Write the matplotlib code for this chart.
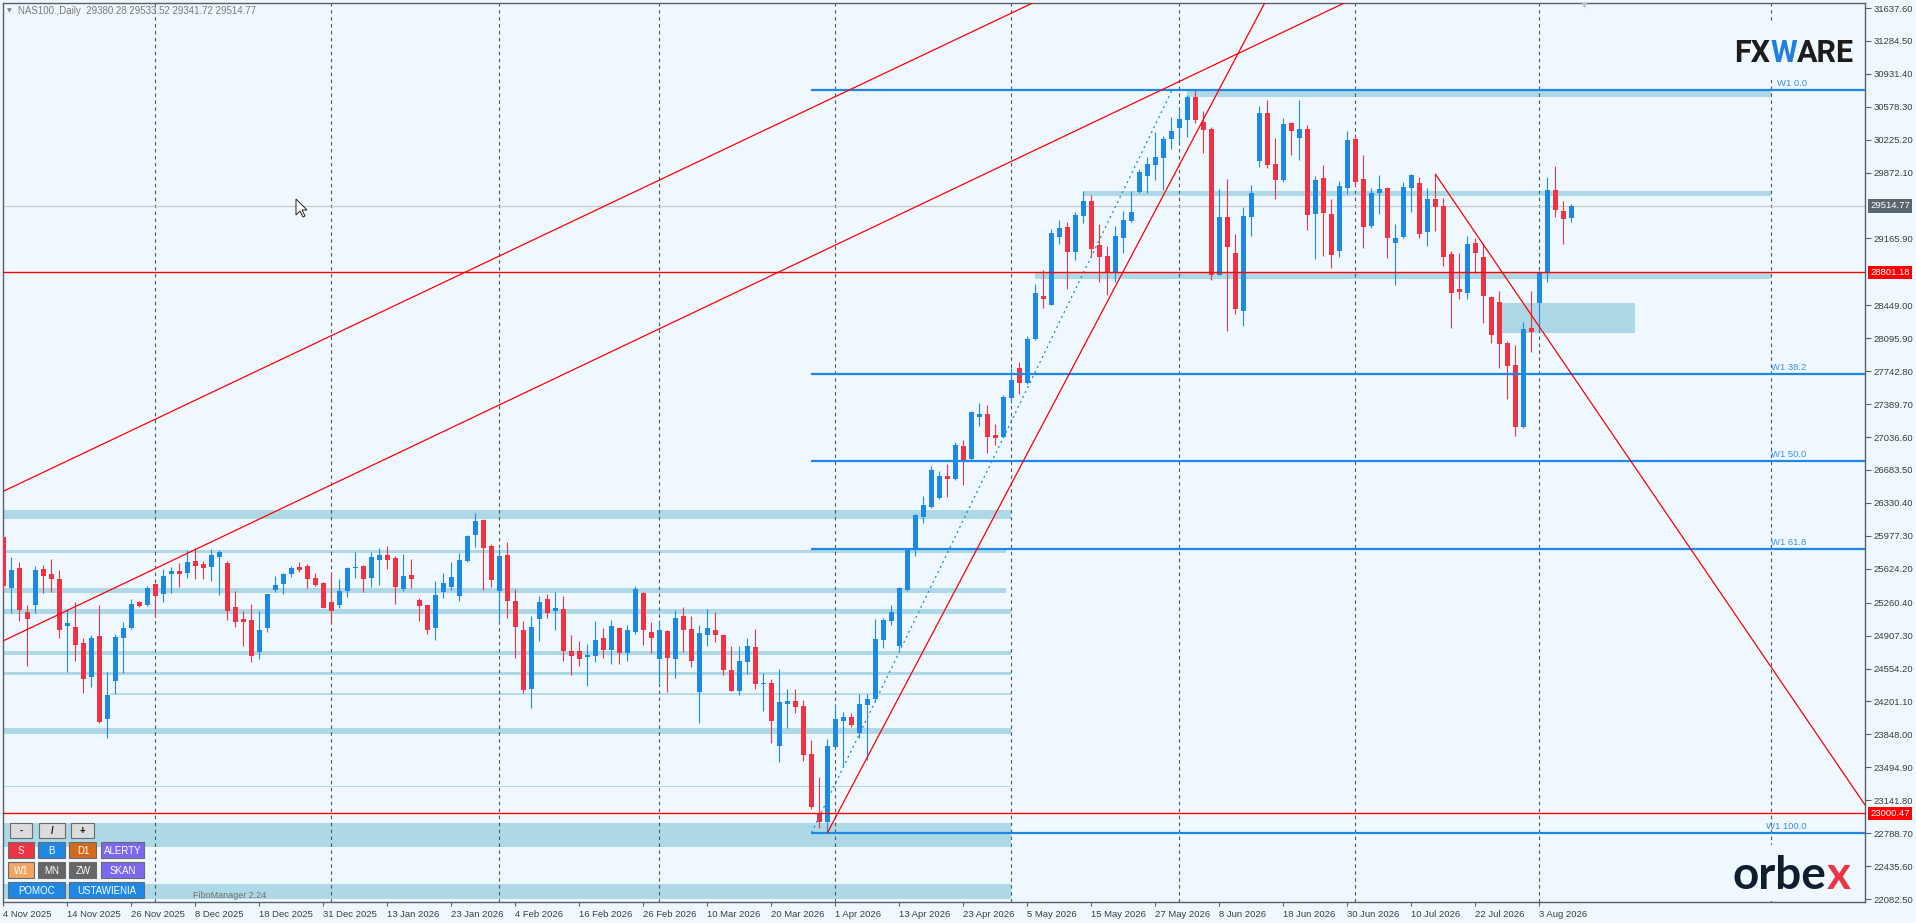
import numpy as np
import matplotlib
matplotlib.use("Agg")
import matplotlib.pyplot as plt
import matplotlib.transforms as mtransforms
from matplotlib.patches import Rectangle, Polygon

plt.rcParams['font.family'] = ['Liberation Sans', 'DejaVu Sans']
plt.rcParams['lines.scale_dashes'] = False

# daily candles NAS100, first bar = 4 Nov 2025
opens = [25968, 25421, 25632, 25160, 25235, 25622, 25568, 25514, 25014, 24999,
         24828, 24467, 24903, 24016, 24424, 24885, 24992, 25268, 25239, 25461,
         25357, 25571, 25600, 25582, 25707, 25675, 25647, 25754, 25686, 25214,
         25085, 25075, 24735, 24992, 25400, 25464, 25571, 25643, 25654, 25525,
         25471, 25268, 25239, 25389, 25636, 25654, 25529, 25722, 25772, 25739,
         25407, 25557, 25289, 25235, 24992, 25378, 25432, 25336, 25707, 25990,
         26147, 25868, 25389, 25772, 25278, 24967, 24338, 25089, 25300, 25175,
         25193, 24742, 24742, 24681, 24692, 24882, 24756, 24989, 24724, 24949,
         25364, 24946, 24660, 24957, 24660, 25117, 24978, 24306, 24917, 24967,
         24914, 24538, 24317, 24628, 24785, 24392, 24399, 23727, 24177, 24206,
         24152, 23638, 23001, 22912, 23716, 23995, 24034, 23859, 24167, 24231,
         24860, 25067, 24799, 25400, 25825, 26183, 26290, 26386, 26619, 26583,
         26940, 26797, 27248, 27284, 27058, 27041, 27459, 27777, 27620, 28084,
         28549, 28456, 29185, 29289, 29025, 29411, 29568, 29096, 28978, 28792,
         29175, 29353, 29664, 29836, 29954, 30029, 30233, 30351, 30437, 30683,
         30415, 30340, 28778, 29396, 29010, 28392, 29396, 30000, 30512, 29965,
         29793, 30404, 30243, 30340, 29428, 29815, 29428, 29032, 29707, 30233,
         29804, 29300, 29654, 29707, 29117, 29182, 29707, 29761, 29235, 29589,
         29514, 28999, 28624, 28581, 29117, 28967, 28538, 28485, 28045, 27809,
         27144, 28206, 28474, 28796, 29686, 29461, 29380.28]
highs = [25975, 25747, 25697, 25232, 25654, 25664, 25729, 25611, 25189, 25271,
         24885, 24914, 25235, 24517, 24921, 25053, 25300, 25282, 25439, 25466,
         25625, 25639, 25686, 25825, 25843, 25707, 25836, 25822, 25707, 25386,
         25171, 25246, 25171, 25358, 25546, 25582, 25657, 25697, 25675, 25579,
         25478, 25589, 25514, 25643, 25804, 25664, 25804, 25847, 25868, 25761,
         25782, 25729, 25314, 25240, 25493, 25579, 25697, 25793, 25990, 26222,
         26158, 25890, 25832, 25915, 25407, 25064, 25117, 25332, 25353, 25375,
         25332, 24914, 24849, 24817, 25064, 24989, 25075, 24999, 25021, 25439,
         25370, 25053, 25075, 24967, 25182, 25214, 25117, 25021, 25193, 25160,
         24920, 24796, 24796, 24882, 24978, 24506, 24442, 24549, 24335, 24335,
         24217, 23791, 23394, 23798, 24174, 24092, 24077, 24281, 24281, 25085,
         25096, 25235, 25425, 25830, 26211, 26404, 26726, 26672, 26747, 26983,
         27005, 27319, 27405, 27380, 27176, 27487, 27781, 27841, 28120, 28678,
         28828, 29268, 29364, 29339, 29450, 29675, 29632, 29321, 29085, 29300,
         29461, 29675, 29911, 30040, 30308, 30265, 30469, 30544, 30705, 30761,
         30533, 30361, 29697, 29804, 29214, 29504, 29739, 30587, 30651, 30243,
         30458, 30415, 30651, 30383, 29836, 29954, 29589, 29782, 30319, 30286,
         30061, 29707, 29847, 29718, 29321, 29772, 29857, 29825, 29707, 29854,
         29600, 29032, 29010, 29193, 29171, 29117, 28545, 28603, 28066, 28024,
         28270, 28603, 28812, 29825, 29943, 29568, 29533.52]
lows = [25396, 25153, 25067, 24585, 25153, 25368, 25378, 24885, 24517, 24638,
        24295, 24360, 23975, 23813, 24285, 24510, 24982, 25214, 25228, 25110,
        25271, 25368, 25432, 25529, 25518, 25514, 25496, 25346, 25075, 25003,
        24799, 24628, 24660, 24949, 25378, 25357, 25539, 25593, 25421, 25439,
        25200, 25046, 25207, 25325, 25525, 25378, 25432, 25453, 25622, 25250,
        25389, 25421, 25067, 24928, 24864, 25314, 25400, 25282, 25697, 25861,
        25400, 25425, 25046, 25100, 24671, 24295, 24134, 24853, 25100, 24971,
        24638, 24488, 24585, 24370, 24628, 24671, 24606, 24606, 24638, 24928,
        24810, 24724, 24402, 24306, 24456, 24735, 24574, 23974, 24799, 24842,
        24488, 24310, 24274, 24499, 24338, 24102, 23759, 23555, 23920, 24081,
        23566, 23051, 22840, 22794, 23710, 23502, 23931, 23813, 23573, 24199,
        24778, 25024, 24756, 25389, 25764, 26111, 26272, 26372, 26397, 26576,
        26522, 26790, 27155, 26869, 26951, 27023, 27405, 27495, 27609, 28078,
        28424, 28450, 29110, 28628, 28939, 29336, 28971, 28703, 28563, 28703,
        29014, 29343, 29654, 29654, 29793, 29686, 30126, 30201, 30254, 30401,
        30083, 28721, 28770, 28177, 28360, 28231, 29193, 29936, 29922, 29589,
        29772, 30061, 30008, 29257, 28946, 28978, 28849, 28971, 29643, 29729,
        29064, 29278, 29428, 28957, 28667, 29171, 29450, 29171, 29085, 29246,
        28871, 28206, 28517, 28517, 28796, 28260, 28045, 27777, 27444, 27048,
        27138, 27948, 28184, 28699, 29396, 29107, 29341.72]
closes = [25439, 25611, 25182, 25089, 25611, 25550, 25518, 24971, 25042, 24810,
          24445, 24882, 23984, 24270, 24892, 24989, 25246, 25228, 25418, 25336,
          25546, 25600, 25571, 25697, 25657, 25636, 25772, 25807, 25175, 25057,
          25057, 24692, 24967, 25353, 25450, 25568, 25632, 25611, 25518, 25450,
          25207, 25175, 25386, 25632, 25643, 25518, 25750, 25772, 25722, 25432,
          25546, 25518, 25228, 24971, 25343, 25471, 25536, 25718, 25975, 26136,
          25850, 25503, 25761, 25282, 25003, 24324, 24999, 25268, 25153, 25203,
          24746, 24692, 24660, 24699, 24860, 24756, 25010, 24724, 24967, 25407,
          24971, 24885, 24967, 24671, 25096, 24971, 24638, 24935, 24989, 24917,
          24542, 24317, 24635, 24796, 24392, 24399, 23995, 24195, 24206, 24145,
          23630, 23073, 22912, 23723, 24013, 24034, 23952, 24174, 24227, 24871,
          25075, 25160, 25418, 25825, 26201, 26308, 26683, 26619, 26583, 26951,
          26783, 27309, 27284, 27041, 27030, 27470, 27648, 27620, 28088, 28585,
          28521, 29225, 29282, 29025, 29418, 29568, 29053, 28971, 28792, 29196,
          29364, 29450, 29879, 29965, 30040, 30233, 30319, 30447, 30683, 30437,
          30329, 28778, 29396, 29078, 28413, 29407, 29654, 30512, 29954, 29793,
          30394, 30319, 30340, 29418, 29793, 29439, 28989, 29729, 30222, 29772,
          29289, 29654, 29697, 29171, 29171, 29718, 29847, 29214, 29589, 29504,
          28967, 28581, 28592, 29107, 29010, 28549, 28131, 28034, 27798, 27144,
          28195, 28163, 28806, 29686, 29471, 29375, 29514.77]

date_labels = ["4 Nov 2025", "14 Nov 2025", "26 Nov 2025", "8 Dec 2025", "18 Dec 2025",
               "31 Dec 2025", "13 Jan 2026", "23 Jan 2026", "4 Feb 2026", "16 Feb 2026",
               "26 Feb 2026", "10 Mar 2026", "20 Mar 2026", "1 Apr 2026", "13 Apr 2026",
               "23 Apr 2026", "5 May 2026", "15 May 2026", "27 May 2026", "8 Jun 2026",
               "18 Jun 2026", "30 Jun 2026", "10 Jul 2026", "22 Jul 2026", "3 Aug 2026"]
date_ticks = list(range(0, 193, 8))
month_lines = [19, 41, 62, 82, 104, 126, 147, 169, 192, 221]

price_ticks = [31637.60, 31284.50, 30931.40, 30578.30, 30225.20, 29872.10, 29165.90,
               28449.00, 28095.90, 27742.80, 27389.70, 27036.60, 26683.50, 26330.40,
               25977.30, 25624.20, 25260.40, 24907.30, 24554.20, 24201.10, 23848.00,
               23494.90, 23141.80, 22788.70, 22435.60, 22082.50]

# support / resistance zones (price from-to, bar from-to)
zone_lo = [26161, 25796, 25367, 25142, 24703, 24488, 23855, 23280, 22637, 22079,
           30686, 29621, 28728, 28155]
zone_hi = [26251, 25825, 25418, 25192, 24742, 24517, 23913, 23294, 22901, 22243,
           30751, 29678, 28796, 28477]
zone_x0 = [-1, -1, -1, -1, -1, -1, -1, -1, -1, -1, 147.9, 134.9, 128.9, 187.2]
zone_x1 = [126, 125.3, 125.3, 126, 126, 126, 126, 126, 126, 126, 220.9, 220.9, 220.9, 203.9]
thin_level = 24278
thin_x = [13.3, 126]

fib_high = 30761.0
fib_low = 22793.5
fib_ratios = [0.0, 38.2, 50.0, 61.8, 100.0]
fib_start = 101.0

red_levels = [28801.18, 23000.47]
last_price = 29514.77

# trend lines as (bar, price) anchor pairs
chan_a = [(-0.15, 26450), (111.0, 30973)]
chan_b = [(-0.15, 24846), (144.56, 30751)]
steep = [(103.0, 22793.5), (144.56, 29560)]
down = [(179.0, 29854), (232.7, 23090)]
fib_base = [(101.0, 22793.5), (146.1, 30761)]

W, H = 1916, 923
BG = '#F0F8FF'
BULL = '#1E88E5'
BEAR = '#EE3344'
ZONE = '#ADD8E6'
FRAME = '#56616B'


def extend(p0, p1, x_from, x_to):
    k = (p1[1] - p0[1]) / (p1[0] - p0[0])
    return [x_from, x_to], [p0[1] + k * (x_from - p0[0]), p0[1] + k * (x_to - p0[0])]


fig = plt.figure(figsize=(W / 100, H / 100), dpi=100, facecolor=BG)
L, T, R, B = 2.5, 2.5, 1865, 902
ax = fig.add_axes([L / W, 1 - B / H, (R - L) / W, (B - T) / H], facecolor=BG)
ax.set_xlim(-0.125, 232.69)
ax.set_ylim(22050.4, 31696.6)

# zones
for lo, hi, x0, x1 in zip(zone_lo, zone_hi, zone_x0, zone_x1):
    ax.add_patch(Rectangle((x0, lo), x1 - x0, hi - lo, fc=ZONE, ec='none', zorder=1))
ax.hlines(thin_level, thin_x[0], thin_x[1], color=ZONE, lw=1.2, zorder=1)

# month grid
for m in month_lines:
    ax.axvline(m, color='#4A5560', lw=0.8, ls=(0, (2.5, 2.5)), zorder=2)

ax.axhline(last_price, color='#C8C8C8', lw=0.9, zorder=2)

# candles
o = np.array(opens, float)
h = np.array(highs, float)
l = np.array(lows, float)
c = np.array(closes, float)
x = np.arange(len(o))
cols = np.where(c >= o, BULL, BEAR)
ax.vlines(x, l, h, colors=cols, lw=0.8, zorder=3)
body_lo = np.minimum(o, c)
body_h = np.maximum(np.abs(c - o), 11)
ax.bar(x, body_h, bottom=body_lo, width=0.625, color=cols, lw=0, zorder=3)

# fibo
for r in fib_ratios:
    lvl = fib_high - r / 100 * (fib_high - fib_low)
    ax.hlines(lvl, fib_start, 240, color=BULL, lw=1.6, zorder=4)
    ax.text(225.4, lvl + 22, f'W1 {r:.1f}', ha='right', va='bottom', fontsize=6.8,
            color='#3A8EE6', zorder=5)
ax.plot([fib_base[0][0], fib_base[1][0]], [fib_base[0][1], fib_base[1][1]],
        color=BULL, lw=0.9, ls=(0, (1.5, 2.5)), zorder=4)

# red lines
for p in red_levels:
    ax.axhline(p, color='#FF0000', lw=1.0, zorder=4)
for ln in (chan_a, chan_b):
    xs, ys = extend(ln[0], ln[1], -5, 300)
    ax.plot(xs, ys, color='#FF0000', lw=0.9, zorder=4)
xs, ys = extend(steep[0], steep[1], steep[0][0], 200)
ax.plot(xs, ys, color='#FF0000', lw=0.9, zorder=4)
xs, ys = extend(down[0], down[1], down[0][0], 240)
ax.plot(xs, ys, color='#FF0000', lw=0.9, zorder=4)

# axes styling
for s in ax.spines.values():
    s.set_color(FRAME)
    s.set_linewidth(1.0)
ax.yaxis.tick_right()
ax.set_yticks(price_ticks)
ax.set_yticklabels([f'{v:.2f}' for v in price_ticks])
ax.tick_params(axis='y', direction='out', length=4, width=0.8, color=FRAME,
               labelsize=6.8, labelcolor='#3C3C3C', pad=2)
ax.set_xticks(date_ticks)
ax.set_xticklabels(date_labels, ha='left')
ax.tick_params(axis='x', direction='out', length=3, width=0.8, color=FRAME,
               labelsize=6.8, labelcolor='#3C3C3C', pad=3)

# price labels on the scale
trans = mtransforms.blended_transform_factory(ax.transAxes, ax.transData)
for p, fc in [(last_price, '#5B6770'), (red_levels[0], '#FF0000'), (red_levels[1], '#FF0000')]:
    ax.text(1.0027, p, f'{p:.2f}', transform=trans, ha='left', va='center', fontsize=6.8,
            color='white', clip_on=False, zorder=6,
            bbox=dict(boxstyle='square,pad=0.22', fc=fc, ec='none'))

# overlay in pixel coords for the terminal decorations
ov = fig.add_axes([0, 0, 1, 1], zorder=5)
ov.set_xlim(0, W)
ov.set_ylim(H, 0)
ov.axis('off')

ov.text(7, 11, '\u25bc', fontsize=4.5, color='#808080', va='center', family='DejaVu Sans')
ov.text(18, 11, 'NAS100.,Daily  29380.28 29533.52 29341.72 29514.77', fontsize=7,
        color='#7A7A7A', va='center')
ov.plot(1584, 4.5, marker='v', ms=5, color='#C4C4C4', mec='none')

# mouse cursor
cur = np.array([(0, 0), (0, 16), (4, 12), (7, 18), (9, 17), (6, 11), (11, 11)]) + [296, 199]
ov.add_patch(Polygon(cur, closed=True, fc='white', ec='#222222', lw=0.7))

# logos
ov.add_patch(Rectangle((1728, 22), 134, 58, fc=BG, ec='none'))
ov.add_patch(Rectangle((1728, 845), 134, 56, fc=BG, ec='none'))
t1 = ov.text(1734, 62, 'FX', fontsize=22, fontweight='bold', color='#1C1C1C',
             va='baseline', family='Roboto')
t2 = ov.annotate('W', xy=(1, 0), xycoords=t1, va='bottom', ha='left', fontsize=22,
                 fontweight='bold', color='#1E7FE0', family='Roboto')
ov.annotate('ARE', xy=(1, 0), xycoords=t2, va='bottom', ha='left', fontsize=22,
            fontweight='bold', color='#1C1C1C', family='Roboto')
t3 = ov.text(1733, 889, 'orbe', fontsize=33, fontweight='bold', color='#0F1D30',
             va='baseline', family='Lato')
ov.annotate('x', xy=(1, 0), xycoords=t3, va='bottom', ha='left', fontsize=33,
            fontweight='bold', color='#EE3344', family='Lato')

# FiboManager panel buttons
buttons = [
    (10, 823, 32.5, 838, '-', '#DCDCDC', '#111111'),
    (39, 823, 65, 838, '/', '#DCDCDC', '#111111'),
    (71.5, 823, 94, 838, '+', '#DCDCDC', '#111111'),
    (7.6, 842, 34, 858, 'S', BEAR, 'white'),
    (38, 842, 65, 858, 'B', BULL, 'white'),
    (69.4, 842, 96.5, 858, 'D1', '#D2691E', 'white'),
    (101, 842, 143.6, 858, 'ALERTY', '#7B68EE', 'white'),
    (7.6, 862, 34, 878, 'W1', '#F4A460', 'white'),
    (38, 862, 65, 878, 'MN', '#666666', 'white'),
    (69.4, 862, 96.5, 878, 'ZW', '#666666', 'white'),
    (101, 862, 143.6, 878, 'SKAN', '#7B68EE', 'white'),
    (7.6, 882, 65, 898, 'POMOC', BULL, 'white'),
    (69.4, 882, 143.6, 898, 'USTAWIENIA', BULL, 'white'),
]
for bx0, by0, bx1, by1, txt, fc, tc in buttons:
    ov.add_patch(Rectangle((bx0, by0), bx1 - bx0, by1 - by0, fc=fc, ec='#6A6A6A', lw=0.8))
    ov.text((bx0 + bx1) / 2, (by0 + by1) / 2 + 0.5, txt, ha='center', va='center',
            fontsize=7, color=tc, fontweight='bold' if fc == '#DCDCDC' else 'normal')
ov.text(193, 895, 'FiboManager 2.24', fontsize=6.5, color='#707070', va='center')

fig.savefig('out.png', dpi=100, facecolor=BG)
